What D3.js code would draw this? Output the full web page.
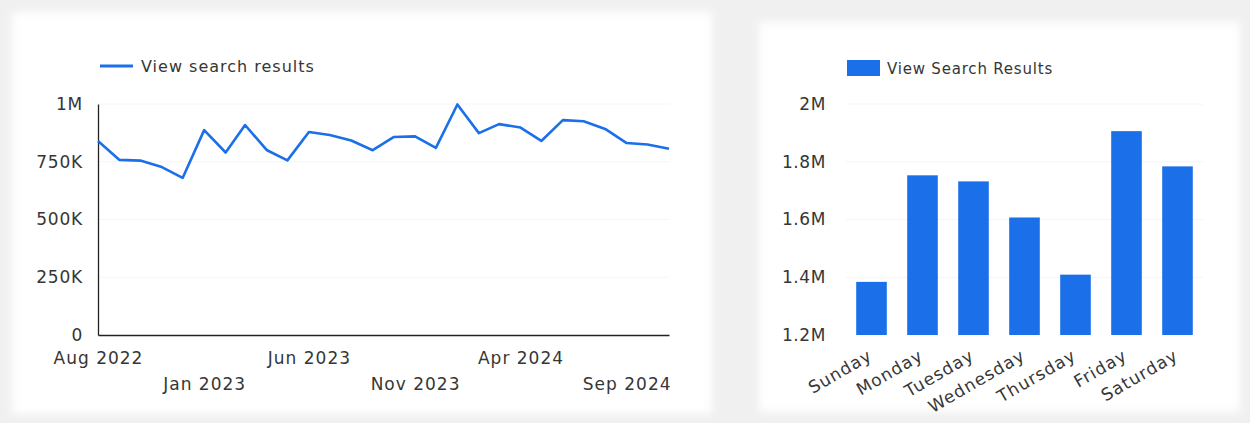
<!DOCTYPE html>
<html>
<head>
<meta charset="utf-8">
<script src="https://cdn.jsdelivr.net/npm/d3@7"></script>
<style>
  html, body { margin: 0; padding: 0; background: #f0f0f0; }
  svg { display: block; }
  text { font-family: "DejaVu Sans", "Open Sans", sans-serif; fill: #363636; }
</style>
</head>
<body>
<svg id="chart" width="1250" height="423"></svg>
<script>
// Monthly "View search results", Aug 2022 – Nov 2024
const months = [
  "2022-08","2022-09","2022-10","2022-11","2022-12",
  "2023-01","2023-02","2023-03","2023-04","2023-05","2023-06","2023-07",
  "2023-08","2023-09","2023-10","2023-11","2023-12",
  "2024-01","2024-02","2024-03","2024-04","2024-05","2024-06","2024-07",
  "2024-08","2024-09","2024-10","2024-11"
];
const monthlyViews = [
  840000, 758000, 755000, 727000, 680000,
  887000, 790000, 909000, 801000, 756000, 879000, 866000,
  842000, 800000, 857000, 860000, 810000,
  998000, 874000, 913000, 898000, 840000, 930000, 925000,
  892000, 831000, 825000, 806000
];
const lineTicks = [0, 250000, 500000, 750000, 1000000];
const lineTickLabels = ["0", "250K", "500K", "750K", "1M"];
const dateTicks = ["2022-08", "2023-01", "2023-06", "2023-11", "2024-04", "2024-09"];

// Views by day of week
const weekdays = ["Sunday","Monday","Tuesday","Wednesday","Thursday","Friday","Saturday"];
const weekdayViews = [1384000, 1753000, 1732000, 1607000, 1409000, 1906000, 1784000];
const barTicks = [1200000, 1400000, 1600000, 1800000, 2000000];
const barTickLabels = ["1.2M", "1.4M", "1.6M", "1.8M", "2M"];

const BLUE = "#1b70e9";
const svg = d3.select("#chart");
const parse = d3.timeParse("%Y-%m");

// soft-edged white cards
const defs = svg.append("defs");
defs.append("filter").attr("id", "soft").attr("x", "-5%").attr("y", "-5%")
  .attr("width", "110%").attr("height", "110%")
  .append("feGaussianBlur").attr("stdDeviation", 4);
svg.append("rect").attr("x", 12).attr("y", 12).attr("width", 700).attr("height", 402)
  .attr("fill", "#ffffff").attr("filter", "url(#soft)");
svg.append("rect").attr("x", 759).attr("y", 22).attr("width", 481).attr("height", 390)
  .attr("fill", "#ffffff").attr("filter", "url(#soft)");

// ---------- line chart ----------
const lineG = svg.append("g");
const x = d3.scaleTime()
  .domain([parse(months[0]), parse(months[months.length - 1])])
  .range([98, 669]);
const y = d3.scaleLinear().domain([0, 1000000]).range([335, 104]);

lineG.append("g").selectAll("line").data(lineTicks.slice(1)).join("line")
  .attr("x1", 98).attr("x2", 669)
  .attr("y1", d => y(d)).attr("y2", d => y(d))
  .attr("stroke", "#f6f6f6").attr("stroke-width", 1);

const yAxis = lineG.append("g").attr("transform", "translate(98,0)")
  .call(d3.axisLeft(y).tickValues(lineTicks)
    .tickFormat((d, i) => lineTickLabels[i]).tickSize(0).tickPadding(15));
yAxis.select(".domain").attr("stroke", "#222").attr("stroke-width", 1.3);
yAxis.selectAll("text").style("font-size", "17px").style("letter-spacing", "0.8px")
  .attr("font-family", null);

const xAxis = lineG.append("g").attr("transform", "translate(0,335)")
  .call(d3.axisBottom(x).tickValues(dateTicks.map(parse))
    .tickFormat(d3.timeFormat("%b %Y")).tickSize(0).tickPadding(0));
xAxis.select(".domain").attr("stroke", "#222").attr("stroke-width", 1.3);
xAxis.selectAll("text")
  .style("font-size", "17px").style("letter-spacing", "1px").attr("font-family", null)
  .attr("dy", null)
  .attr("y", (d, i) => i % 2 === 0 ? 29 : 55);

lineG.append("path")
  .datum(months.map((m, i) => [parse(m), monthlyViews[i]]))
  .attr("fill", "none").attr("stroke", BLUE).attr("stroke-width", 2.6)
  .attr("stroke-linejoin", "round")
  .attr("d", d3.line().x(d => x(d[0])).y(d => y(d[1])));

// legend
lineG.append("line").attr("x1", 100).attr("x2", 133).attr("y1", 66).attr("y2", 66)
  .attr("stroke", BLUE).attr("stroke-width", 3);
lineG.append("text").attr("x", 141).attr("y", 72)
  .style("font-size", "16px").style("letter-spacing", "1px")
  .text("View search results");

// ---------- bar chart ----------
const barG = svg.append("g");
const bx = d3.scaleBand().domain(weekdays).range([846, 1203])
  .paddingInner(0.4).paddingOuter(0.2);
const by = d3.scaleLinear().domain([1200000, 2000000]).range([335, 104]);

barG.append("g").selectAll("line").data(barTicks.slice(1)).join("line")
  .attr("x1", 846).attr("x2", 1203)
  .attr("y1", d => by(d)).attr("y2", d => by(d))
  .attr("stroke", "#f4f4f4").attr("stroke-width", 1);

const byAxis = barG.append("g").attr("transform", "translate(826,0)")
  .call(d3.axisLeft(by).tickValues(barTicks)
    .tickFormat((d, i) => barTickLabels[i]).tickSize(0).tickPadding(0));
byAxis.select(".domain").remove();
byAxis.selectAll("text").style("font-size", "17px").style("letter-spacing", "0.6px")
  .attr("font-family", null);

barG.append("g").selectAll("rect").data(weekdays).join("rect")
  .attr("x", d => bx(d))
  .attr("width", bx.bandwidth())
  .attr("y", (d, i) => by(weekdayViews[i]))
  .attr("height", (d, i) => by(1200000) - by(weekdayViews[i]))
  .attr("fill", BLUE);

const bxAxis = barG.append("g").attr("transform", "translate(0,335)")
  .call(d3.axisBottom(bx).tickSize(0).tickPadding(0));
bxAxis.select(".domain").remove();
bxAxis.selectAll("text")
  .style("font-size", "17px").style("letter-spacing", "1.1px").attr("font-family", null)
  .attr("text-anchor", "end")
  .attr("y", 0).attr("dy", null)
  .attr("transform", "translate(2,24) rotate(-30)");

// legend
barG.append("rect").attr("x", 847).attr("y", 60).attr("width", 33).attr("height", 16)
  .attr("fill", BLUE);
barG.append("text").attr("x", 887).attr("y", 74)
  .style("font-size", "15px").style("letter-spacing", "0.8px")
  .text("View Search Results");
</script>
</body>
</html>
